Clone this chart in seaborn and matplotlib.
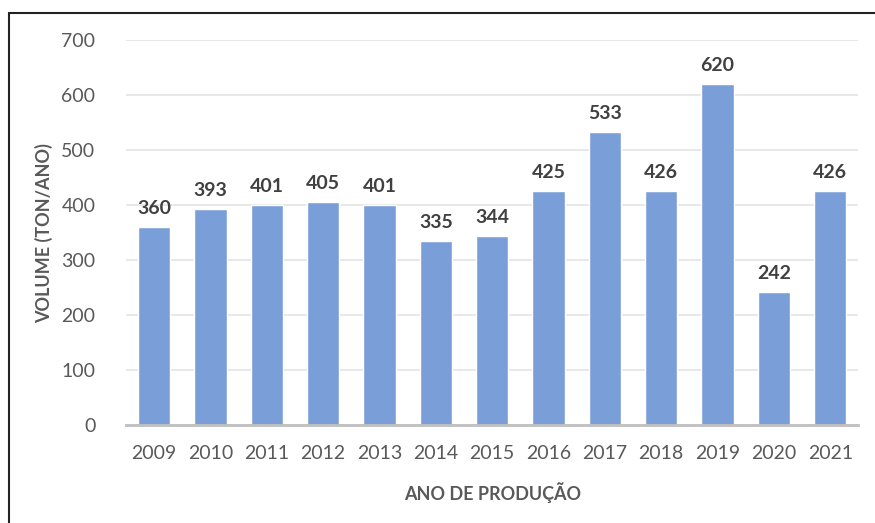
import matplotlib
matplotlib.use("Agg")
import matplotlib.pyplot as plt
from matplotlib.lines import Line2D
import seaborn as sns
import pandas as pd

# dados
anos = ["2009", "2010", "2011", "2012", "2013", "2014", "2015",
        "2016", "2017", "2018", "2019", "2020", "2021"]
volume = [360, 393, 401, 405, 401, 335, 344, 425, 533, 426, 620, 242, 426]
y_ticks = [0, 100, 200, 300, 400, 500, 600, 700]

df = pd.DataFrame({"ano": anos, "volume": volume})

sns.set_style("white")
plt.rcParams["font.family"] = ["Lato", "DejaVu Sans"]

fig = plt.figure(figsize=(8.75, 5.23), dpi=100)
ax = fig.add_axes([0.144, 0.187, 0.837, 0.7365])

sns.barplot(data=df, x="ano", y="volume", color="#7A9ED8", saturation=1,
            width=0.57, ax=ax, zorder=3)

for i, v in enumerate(volume):
    ax.text(i, v + 18, str(v), ha="center", va="bottom", fontsize=14,
            fontweight="bold", color="#404040")

ax.set_ylim(0, 700)
ax.set_xlim(-0.5, len(anos) - 0.5)
ax.set_yticks(y_ticks)
ax.yaxis.grid(True, color="#E4E4E4", linewidth=1.2, zorder=0)
for s in ["top", "right", "left"]:
    ax.spines[s].set_visible(False)
ax.spines["bottom"].set_color("#BFBFBF")
ax.spines["bottom"].set_linewidth(2)
ax.spines["bottom"].set_zorder(4)
ax.tick_params(axis="both", length=0, labelsize=14, labelcolor="#595959")
ax.tick_params(axis="x", pad=14)
ax.tick_params(axis="y", pad=22)

ax.set_xlabel("ANO DE PRODUÇÃO", fontsize=13, fontweight="bold",
              color="#595959", labelpad=15)
ax.set_ylabel("VOLUME (TON/ANO)", fontsize=13, fontweight="bold",
              color="#595959", labelpad=6)

# moldura
fig.add_artist(Line2D([0.0105, 0.0105], [0.0, 0.9755], transform=fig.transFigure,
                      color="#222222", linewidth=1.5))
fig.add_artist(Line2D([0.0105, 1.0], [0.9755, 0.9755], transform=fig.transFigure,
                      color="#222222", linewidth=1.5))

fig.savefig("out.png", dpi=100, facecolor="white")
